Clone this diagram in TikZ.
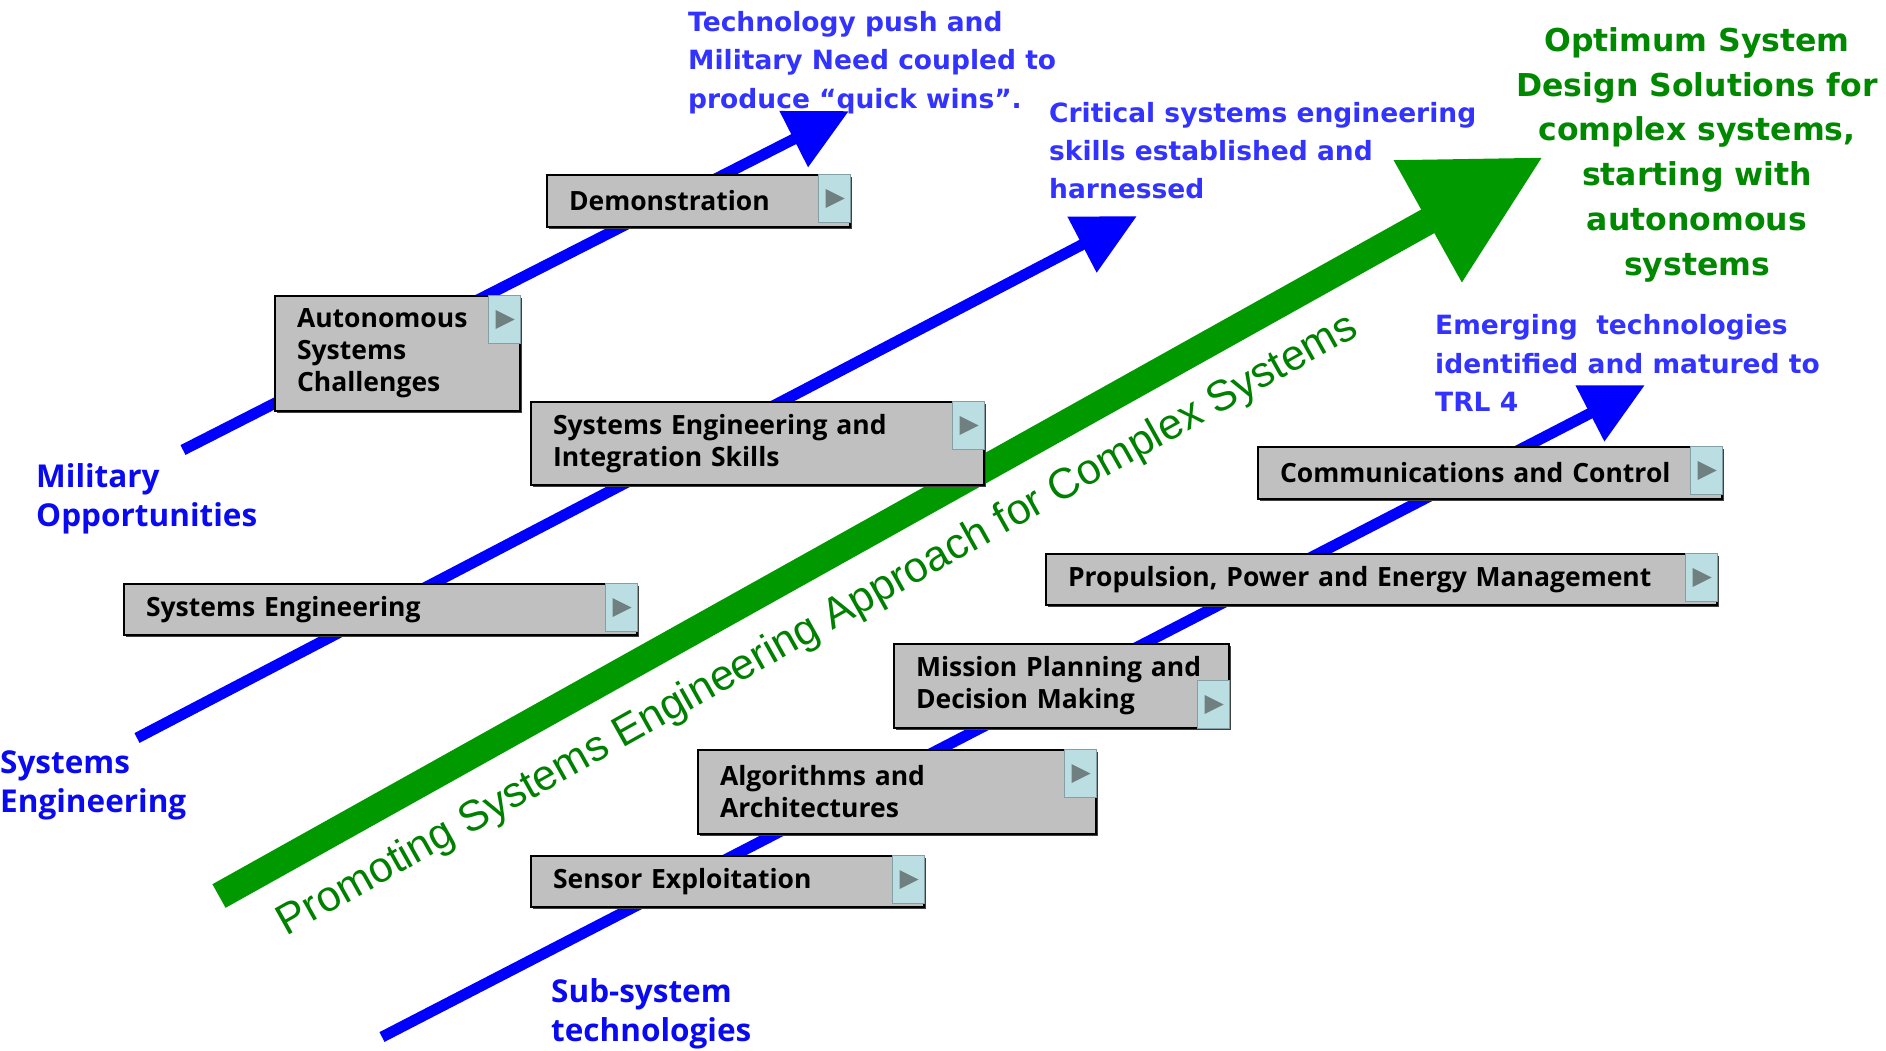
\documentclass[tikz,border=0pt]{standalone}
\usepackage{fontspec}
\usepackage{tikz}
\usetikzlibrary{arrows.meta,positioning,shadows}

\newfontfamily\verdanafont{DejaVu Sans}
\newfontfamily\boxfont{Open Sans}
\newfontfamily\arialfont{Liberation Sans}

\definecolor{boxgray}{RGB}{192,192,192}
\definecolor{btncyan}{RGB}{186,222,226}
\definecolor{btnedge}{RGB}{130,160,165}
\definecolor{btntri}{RGB}{112,128,128}
\definecolor{lineblue}{RGB}{0,0,255}
\definecolor{noteblue}{RGB}{51,51,255}
\definecolor{labelblue}{RGB}{10,10,240}
\definecolor{arrowgreen}{RGB}{0,153,0}
\definecolor{titlegreen}{RGB}{0,136,0}
\definecolor{promgreen}{RGB}{0,128,0}

\begin{document}
\begin{tikzpicture}
        [x = 1pt, y = -1pt,
        blueline/.style = {draw=lineblue, line width=11pt, -{Triangle[length=62pt,width=60pt]}},
        greenline/.style = {draw=arrowgreen, line width=27pt, -{Triangle[length=132pt,width=132pt]}},
        box/.style = {rectangle, draw=black, line width=2pt, fill=boxgray, anchor=north west, align=left,
                      inner xsep=22pt, inner ysep=0pt, font=\boxfont\bfseries\fontsize{26.5}{32}\selectfont,
                      drop shadow={shadow xshift=2pt, shadow yshift=-2pt, fill=black!75, opacity=1}},
        playbtn/.style = {rectangle, draw=btnedge, line width=1pt, fill=btncyan, minimum width=32pt,
                      minimum height=48pt, inner sep=0pt,
                      path picture={\fill[btntri] ([shift={(-9pt,-9.5pt)}]path picture bounding box.center)
                                    -- ++(19pt,9.5pt) -- ++(-19pt,9.5pt) -- cycle;}},
        bluenote/.style = {align=left, inner sep=0pt, text=noteblue, anchor=base west,
                      font=\verdanafont\bfseries\fontsize{26.5}{38.5}\selectfont},
        sidelabel/.style = {align=left, inner sep=0pt, text=labelblue, anchor=base west,
                      font=\boxfont\bfseries\fontsize{31.5}{39}\selectfont}]

        \useasboundingbox (0,0) rectangle (1886,1051);

        %% ends of the three streams and of the main arrow
        \coordinate (milstart) at (183,450);
        \coordinate (milend)   at (849,111);
        \coordinate (sestart)  at (137,738);
        \coordinate (seend)    at (1137,216);
        \coordinate (substart) at (382,1037);
        \coordinate (subend)   at (1645,385);
        \coordinate (gostart)  at (219,896);
        \coordinate (goend)    at (1543,157);

        %% streams
        \draw[greenline] (gostart) -- (goend);
        \draw[blueline]  (milstart) -- (milend);
        \draw[blueline]  (sestart) -- (seend);
        \draw[blueline]  (substart) -- (subend);

        %% place boxes on canvas
        \node[box, text width=259pt, minimum height=52pt]  (demo)       at (546,174)  {Demonstration};
        \node[box, text width=201pt, minimum height=115pt] (autonomous) at (274,295)  {Autonomous\\Systems\\Challenges};
        \node[box, text width=409pt, minimum height=83pt]  (seskills)   at (530,401)  {Systems Engineering and\\Integration Skills};
        \node[box, text width=469pt, minimum height=51pt]  (syseng)     at (123,583)  {Systems Engineering};
        \node[box, text width=420pt, minimum height=52pt]  (comms)      at (1257,446) {Communications and Control};
        \node[box, text width=627pt, minimum height=51pt]  (propulsion) at (1045,553) {Propulsion, Power and Energy Management};
        \node[box, text width=291pt, minimum height=84pt]  (mission)    at (893,643)  {Mission Planning and\\Decision Making};
        \node[box, text width=354pt, minimum height=84pt]  (algos)      at (697,749)  {Algorithms and\\Architectures};
        \node[box, text width=349pt, minimum height=51pt]  (sensor)     at (530,855)  {Sensor Exploitation};

        %% buttons
        \node[playbtn, anchor=north east] (demobtn)       at (demo.north east)       {};
        \node[playbtn, anchor=north east] (autonomousbtn) at (autonomous.north east) {};
        \node[playbtn, anchor=north east] (seskillsbtn)   at (seskills.north east)   {};
        \node[playbtn, anchor=north east] (sysengbtn)     at (syseng.north east)     {};
        \node[playbtn, anchor=north east] (commsbtn)      at (comms.north east)      {};
        \node[playbtn, anchor=north east] (propulsionbtn) at (propulsion.north east) {};
        \node[playbtn, anchor=south east] (missionbtn)    at (mission.south east)    {};
        \node[playbtn, anchor=north east] (algosbtn)      at (algos.north east)      {};
        \node[playbtn, anchor=north east] (sensorbtn)     at (sensor.north east)     {};

        %% texts (base anchor sits on the last line)
        \node[sidelabel] (military) at (36,526)   {Military\\Opportunities};
        \node[sidelabel] (syslabel) at (0,812)    {Systems\\Engineering};
        \node[sidelabel] (subsys)   at (551,1041) {Sub-system\\technologies};

        \node[bluenote] (techpush) at (688,108.5)  {Technology push and\\Military Need coupled to\\produce “quick wins”.};
        \node[bluenote] (critical) at (1049,199)   {Critical systems engineering\\skills established and\\harnessed};
        \node[bluenote] (emerging) at (1435,411.5) {Emerging\ \ technologies\\identified and matured to\\TRL 4};

        \node[align=center, inner sep=0pt, anchor=base, text=titlegreen,
              font=\verdanafont\bfseries\fontsize{31.5}{44.7}\selectfont] (optimum) at (1697,275)
              {Optimum System\\Design Solutions for\\complex systems,\\starting with\\autonomous\\systems};

        \node[rotate=29.3, inner sep=0pt, text=promgreen, font=\arialfont\fontsize{43}{50}\selectfont] (promoting)
              at (818,626) {Promoting Systems Engineering Approach for Complex Systems};
    \end{tikzpicture}
\end{document}
